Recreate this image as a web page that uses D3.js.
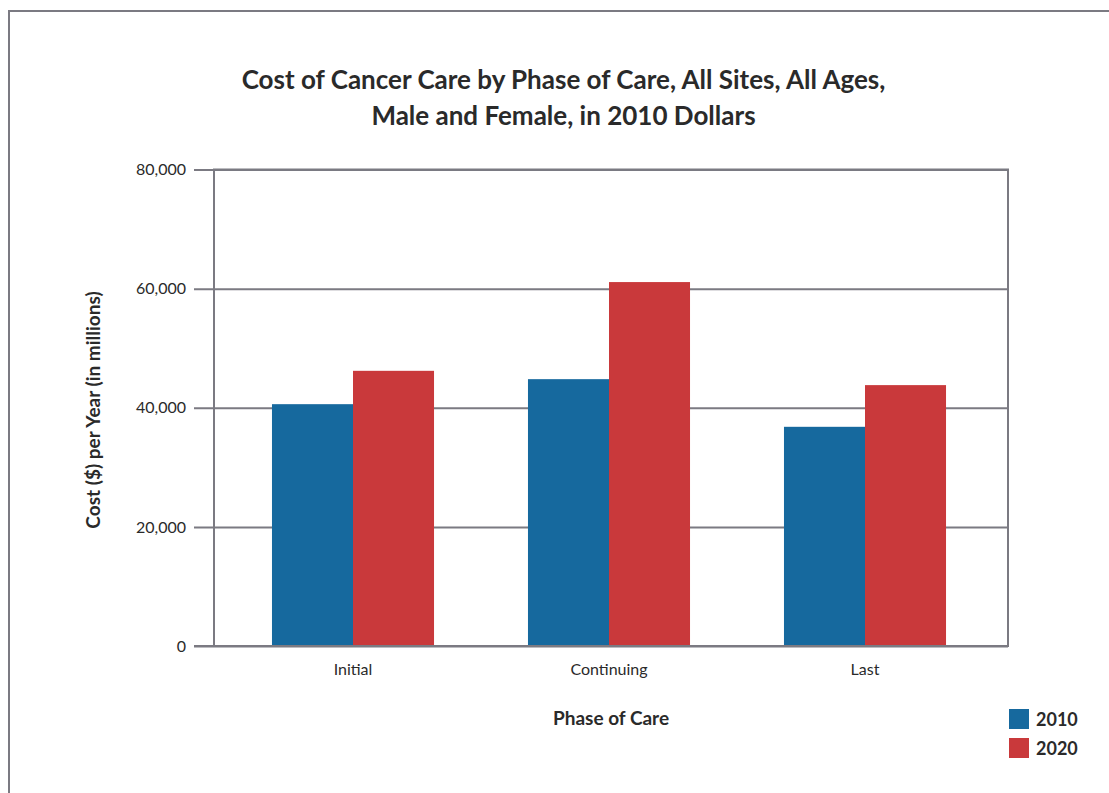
<!DOCTYPE html>
<html>
<head>
<meta charset="utf-8">
<script src="https://cdn.jsdelivr.net/npm/d3@7"></script>
<style>
  html, body { margin: 0; padding: 0; background: #fff; }
  svg { display: block; }
  text { font-family: Lato, "Open Sans", sans-serif; fill: #2a2a2a; }
</style>
</head>
<body>
<svg id="chart" width="1109" height="793"></svg>
<script>
const titleLines = ["Cost of Cancer Care by Phase of Care, All Sites, All Ages,", "Male and Female, in 2010 Dollars"];
const categories = ["Initial", "Continuing", "Last"];
const seriesNames = ["2010", "2020"];
const values2010 = [40600, 44800, 36800];
const values2020 = [46200, 61100, 43800];
const yTicks = [0, 20000, 40000, 60000, 80000];
const colors = ["#16699e", "#c9393b"];
const xTitle = "Phase of Care";
const yTitle = "Cost ($) per Year (in millions)";

const svg = d3.select("#chart");
const gridColor = "#7b7a82";

// outer frame
svg.append("rect").attr("x", 9).attr("y", 11).attr("width", 1200).attr("height", 900)
  .attr("fill", "none").attr("stroke", gridColor).attr("stroke-width", 2);

const plot = { left: 214, right: 1008, top: 169.5, bottom: 646 };

const y = d3.scaleLinear().domain([0, 80000]).range([plot.bottom, plot.top]);
const x0 = d3.scaleBand().domain(categories).range([225, 993]).paddingInner(0.367).paddingOuter(0.1835);
const x1 = d3.scaleBand().domain(seriesNames).range([0, x0.bandwidth()]);

// gridlines + ticks via axis
const yAxis = d3.axisLeft(y).tickValues(yTicks).tickFormat(d3.format(",")).tickSize(-(plot.right - plot.left)).tickPadding(0);
const gy = svg.append("g").attr("transform", `translate(${plot.left},0)`).call(yAxis);
gy.select(".domain").remove();
gy.selectAll(".tick line").attr("stroke", gridColor).attr("stroke-width", 2).attr("x1", -20);
gy.selectAll(".tick text").attr("x", -28).attr("font-size", 16).attr("fill", "#2a2a2a")
  .style("font-family", "Lato, sans-serif");

// data
const data = categories.map((c, i) => ({ cat: c, vals: [values2010[i], values2020[i]] }));

const groups = svg.append("g").selectAll("g").data(data).join("g")
  .attr("transform", d => `translate(${x0(d.cat)},0)`);
groups.selectAll("rect").data(d => d.vals.map((v, j) => ({ key: seriesNames[j], v, j })))
  .join("rect")
  .attr("x", d => x1(d.key))
  .attr("width", x1.bandwidth())
  .attr("y", d => y(d.v))
  .attr("height", d => y(0) - y(d.v))
  .attr("fill", d => colors[d.j]);

// plot frame
svg.append("rect").attr("x", plot.left).attr("y", plot.top).attr("width", plot.right - plot.left)
  .attr("height", plot.bottom - plot.top).attr("fill", "none").attr("stroke", gridColor).attr("stroke-width", 2);
svg.append("line").attr("x1", 194).attr("x2", plot.right).attr("y1", plot.bottom).attr("y2", plot.bottom)
  .attr("stroke", gridColor).attr("stroke-width", 2);

// category labels
const xAxis = d3.axisBottom(x0).tickSize(0).tickPadding(0);
const gx = svg.append("g").attr("transform", `translate(0,${plot.bottom})`).call(xAxis);
gx.select(".domain").remove();
gx.selectAll(".tick text").attr("y", 29).attr("dy", 0).attr("font-size", 16).attr("fill", "#2a2a2a")
  .style("font-family", "Lato, sans-serif");

// titles
svg.append("text").attr("x", 563.5).attr("y", 89).attr("text-anchor", "middle")
  .attr("font-size", 26).attr("font-weight", "bold").text(titleLines[0]);
svg.append("text").attr("x", 563.5).attr("y", 125).attr("text-anchor", "middle")
  .attr("font-size", 26).attr("font-weight", "bold").text(titleLines[1]);

svg.append("text").attr("x", 611).attr("y", 725).attr("text-anchor", "middle")
  .attr("font-size", 19).attr("font-weight", "bold").text(xTitle);

svg.append("text").attr("transform", "translate(100,410) rotate(-90)").attr("text-anchor", "middle")
  .attr("font-size", 19).attr("font-weight", "bold").text(yTitle);

// legend
const leg = svg.append("g").attr("transform", "translate(1009,709)");
seriesNames.forEach((s, i) => {
  leg.append("rect").attr("x", 0).attr("y", i * 29).attr("width", 20).attr("height", 20).attr("fill", colors[i]);
  leg.append("text").attr("x", 27).attr("y", i * 29 + 17).attr("font-size", 18).attr("font-weight", "bold").text(s);
});
</script>
</body>
</html>
